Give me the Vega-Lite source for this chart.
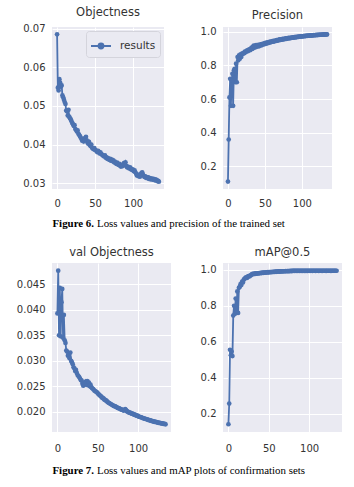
{
  "$schema": "https://vega.github.io/schema/vega-lite/v6.json",
  "background": "#FFFFFF",
  "padding": {"left": 16, "top": 7, "right": 5, "bottom": 5},
  "data": {"values": [
    {"epoch":0,"objectness":0.0685,"precision":0.11,"val_objectness":0.0393,"map50":0.14},
    {"epoch":1,"objectness":0.0547,"precision":0.36,"val_objectness":0.0477,"map50":0.255},
    {"epoch":2,"objectness":0.0540,"precision":0.61,"val_objectness":0.0350,"map50":0.555},
    {"epoch":3,"objectness":0.0569,"precision":0.72,"val_objectness":0.0443,"map50":0.525},
    {"epoch":4,"objectness":0.0560,"precision":0.56,"val_objectness":0.0348,"map50":0.545},
    {"epoch":5,"objectness":0.0550,"precision":0.71,"val_objectness":0.0415,"map50":0.52},
    {"epoch":6,"objectness":0.0553,"precision":0.75,"val_objectness":0.0441,"map50":0.745},
    {"epoch":7,"objectness":0.0527,"precision":0.56,"val_objectness":0.0345,"map50":0.80},
    {"epoch":8,"objectness":0.0522,"precision":0.77,"val_objectness":0.0390,"map50":0.755},
    {"epoch":9,"objectness":0.0516,"precision":0.78,"val_objectness":0.0340,"map50":0.84},
    {"epoch":10,"objectness":0.0510,"precision":0.70,"val_objectness":0.0335,"map50":0.76},
    {"epoch":11,"objectness":0.0505,"precision":0.81,"val_objectness":0.0320,"map50":0.88},
    {"epoch":12,"objectness":0.0488,"precision":0.70,"val_objectness":0.0318,"map50":0.76},
    {"epoch":13,"objectness":0.0486,"precision":0.85,"val_objectness":0.0310,"map50":0.90},
    {"epoch":14,"objectness":0.0475,"precision":0.83,"val_objectness":0.0312,"map50":0.905},
    {"epoch":15,"objectness":0.0490,"precision":0.86,"val_objectness":0.0305,"map50":0.92},
    {"epoch":16,"objectness":0.0472,"precision":0.84,"val_objectness":0.0316,"map50":0.915},
    {"epoch":17,"objectness":0.0468,"precision":0.865,"val_objectness":0.0300,"map50":0.935},
    {"epoch":18,"objectness":0.0465,"precision":0.85,"val_objectness":0.0297,"map50":0.93},
    {"epoch":19,"objectness":0.0460,"precision":0.87,"val_objectness":0.0293,"map50":0.945},
    {"epoch":20,"objectness":0.0456,"precision":0.868,"val_objectness":0.0287,"map50":0.95},
    {"epoch":21,"objectness":0.0452,"precision":0.875,"val_objectness":0.0285,"map50":0.955},
    {"epoch":22,"objectness":0.0448,"precision":0.872,"val_objectness":0.0280,"map50":0.958},
    {"epoch":23,"objectness":0.0450,"precision":0.882,"val_objectness":0.0282,"map50":0.955},
    {"epoch":24,"objectness":0.0440,"precision":0.878,"val_objectness":0.0276,"map50":0.962},
    {"epoch":25,"objectness":0.0438,"precision":0.885,"val_objectness":0.0272,"map50":0.965},
    {"epoch":26,"objectness":0.0434,"precision":0.889,"val_objectness":0.0270,"map50":0.963},
    {"epoch":27,"objectness":0.0437,"precision":0.884,"val_objectness":0.0268,"map50":0.968},
    {"epoch":28,"objectness":0.0428,"precision":0.893,"val_objectness":0.0265,"map50":0.970},
    {"epoch":29,"objectness":0.0425,"precision":0.896,"val_objectness":0.0262,"map50":0.975},
    {"epoch":30,"objectness":0.0422,"precision":0.890,"val_objectness":0.0261,"map50":0.978},
    {"epoch":31,"objectness":0.0418,"precision":0.900,"val_objectness":0.0255,"map50":0.976},
    {"epoch":32,"objectness":0.0415,"precision":0.905,"val_objectness":0.0251,"map50":0.979},
    {"epoch":33,"objectness":0.0410,"precision":0.898,"val_objectness":0.0256,"map50":0.977},
    {"epoch":34,"objectness":0.0413,"precision":0.912,"val_objectness":0.0253,"map50":0.980},
    {"epoch":35,"objectness":0.0408,"precision":0.918,"val_objectness":0.0259,"map50":0.978},
    {"epoch":36,"objectness":0.0416,"precision":0.905,"val_objectness":0.0254,"map50":0.981},
    {"epoch":37,"objectness":0.0412,"precision":0.915,"val_objectness":0.0260,"map50":0.980},
    {"epoch":38,"objectness":0.0420,"precision":0.921,"val_objectness":0.0252,"map50":0.982},
    {"epoch":39,"objectness":0.0411,"precision":0.910,"val_objectness":0.0257,"map50":0.981},
    {"epoch":40,"objectness":0.0405,"precision":0.917,"val_objectness":0.0250,"map50":0.983},
    {"epoch":41,"objectness":0.0402,"precision":0.922,"val_objectness":0.0253,"map50":0.982},
    {"epoch":42,"objectness":0.0407,"precision":0.913,"val_objectness":0.0248,"map50":0.984},
    {"epoch":43,"objectness":0.0399,"precision":0.919,"val_objectness":0.0246,"map50":0.983},
    {"epoch":44,"objectness":0.0396,"precision":0.925,"val_objectness":0.0245,"map50":0.985},
    {"epoch":45,"objectness":0.0400,"precision":0.918,"val_objectness":0.0243,"map50":0.984},
    {"epoch":46,"objectness":0.0392,"precision":0.927,"val_objectness":0.0241,"map50":0.985},
    {"epoch":47,"objectness":0.0390,"precision":0.923,"val_objectness":0.0240,"map50":0.986},
    {"epoch":48,"objectness":0.0388,"precision":0.930,"val_objectness":0.0239,"map50":0.985},
    {"epoch":49,"objectness":0.0391,"precision":0.926,"val_objectness":0.0238,"map50":0.987},
    {"epoch":50,"objectness":0.0386,"precision":0.932,"val_objectness":0.0236,"map50":0.986},
    {"epoch":51,"objectness":0.0385,"precision":0.928,"val_objectness":0.0234,"map50":0.987},
    {"epoch":52,"objectness":0.0383,"precision":0.935,"val_objectness":0.0233,"map50":0.988},
    {"epoch":53,"objectness":0.0380,"precision":0.931,"val_objectness":0.0231,"map50":0.987},
    {"epoch":54,"objectness":0.0384,"precision":0.937,"val_objectness":0.0230,"map50":0.988},
    {"epoch":55,"objectness":0.0381,"precision":0.933,"val_objectness":0.0228,"map50":0.989},
    {"epoch":56,"objectness":0.0377,"precision":0.940,"val_objectness":0.0227,"map50":0.988},
    {"epoch":57,"objectness":0.0380,"precision":0.936,"val_objectness":0.0226,"map50":0.989},
    {"epoch":58,"objectness":0.0376,"precision":0.942,"val_objectness":0.0224,"map50":0.990},
    {"epoch":59,"objectness":0.0374,"precision":0.939,"val_objectness":0.0223,"map50":0.989},
    {"epoch":60,"objectness":0.0372,"precision":0.944,"val_objectness":0.0222,"map50":0.990},
    {"epoch":61,"objectness":0.0371,"precision":0.941,"val_objectness":0.0221,"map50":0.990},
    {"epoch":62,"objectness":0.0369,"precision":0.946,"val_objectness":0.0219,"map50":0.991},
    {"epoch":63,"objectness":0.0372,"precision":0.943,"val_objectness":0.0218,"map50":0.990},
    {"epoch":64,"objectness":0.0366,"precision":0.948,"val_objectness":0.0217,"map50":0.991},
    {"epoch":65,"objectness":0.0367,"precision":0.945,"val_objectness":0.0216,"map50":0.991},
    {"epoch":66,"objectness":0.0363,"precision":0.950,"val_objectness":0.0215,"map50":0.992},
    {"epoch":67,"objectness":0.0365,"precision":0.947,"val_objectness":0.0214,"map50":0.991},
    {"epoch":68,"objectness":0.0362,"precision":0.952,"val_objectness":0.0213,"map50":0.992},
    {"epoch":69,"objectness":0.0360,"precision":0.950,"val_objectness":0.0212,"map50":0.992},
    {"epoch":70,"objectness":0.0363,"precision":0.954,"val_objectness":0.0211,"map50":0.992},
    {"epoch":71,"objectness":0.0358,"precision":0.951,"val_objectness":0.0211,"map50":0.993},
    {"epoch":72,"objectness":0.0361,"precision":0.955,"val_objectness":0.0210,"map50":0.992},
    {"epoch":73,"objectness":0.0357,"precision":0.953,"val_objectness":0.0209,"map50":0.993},
    {"epoch":74,"objectness":0.0359,"precision":0.957,"val_objectness":0.0208,"map50":0.993},
    {"epoch":75,"objectness":0.0354,"precision":0.955,"val_objectness":0.0207,"map50":0.993},
    {"epoch":76,"objectness":0.0356,"precision":0.958,"val_objectness":0.0207,"map50":0.993},
    {"epoch":77,"objectness":0.0352,"precision":0.956,"val_objectness":0.0206,"map50":0.994},
    {"epoch":78,"objectness":0.0350,"precision":0.960,"val_objectness":0.0205,"map50":0.993},
    {"epoch":79,"objectness":0.0353,"precision":0.958,"val_objectness":0.0204,"map50":0.994},
    {"epoch":80,"objectness":0.0349,"precision":0.961,"val_objectness":0.0204,"map50":0.994},
    {"epoch":81,"objectness":0.0347,"precision":0.960,"val_objectness":0.0203,"map50":0.995},
    {"epoch":82,"objectness":0.0350,"precision":0.963,"val_objectness":0.0202,"map50":0.994},
    {"epoch":83,"objectness":0.0345,"precision":0.961,"val_objectness":0.0203,"map50":0.995},
    {"epoch":84,"objectness":0.0343,"precision":0.964,"val_objectness":0.0205,"map50":0.994},
    {"epoch":85,"objectness":0.0346,"precision":0.962,"val_objectness":0.0203,"map50":0.995},
    {"epoch":86,"objectness":0.0344,"precision":0.965,"val_objectness":0.0201,"map50":0.994},
    {"epoch":87,"objectness":0.0349,"precision":0.964,"val_objectness":0.0200,"map50":0.995},
    {"epoch":88,"objectness":0.0352,"precision":0.966,"val_objectness":0.0199,"map50":0.994},
    {"epoch":89,"objectness":0.0348,"precision":0.965,"val_objectness":0.0198,"map50":0.995},
    {"epoch":90,"objectness":0.0354,"precision":0.968,"val_objectness":0.0198,"map50":0.994},
    {"epoch":91,"objectness":0.0345,"precision":0.966,"val_objectness":0.0197,"map50":0.995},
    {"epoch":92,"objectness":0.0341,"precision":0.969,"val_objectness":0.0196,"map50":0.994},
    {"epoch":93,"objectness":0.0343,"precision":0.967,"val_objectness":0.0196,"map50":0.995},
    {"epoch":94,"objectness":0.0340,"precision":0.970,"val_objectness":0.0195,"map50":0.994},
    {"epoch":95,"objectness":0.0338,"precision":0.969,"val_objectness":0.0194,"map50":0.995},
    {"epoch":96,"objectness":0.0341,"precision":0.971,"val_objectness":0.0194,"map50":0.994},
    {"epoch":97,"objectness":0.0336,"precision":0.970,"val_objectness":0.0193,"map50":0.995},
    {"epoch":98,"objectness":0.0337,"precision":0.972,"val_objectness":0.0192,"map50":0.994},
    {"epoch":99,"objectness":0.0334,"precision":0.971,"val_objectness":0.0192,"map50":0.995},
    {"epoch":100,"objectness":0.0335,"precision":0.973,"val_objectness":0.0191,"map50":0.995},
    {"epoch":101,"objectness":0.0331,"precision":0.972,"val_objectness":0.0190,"map50":0.994},
    {"epoch":102,"objectness":0.0333,"precision":0.974,"val_objectness":0.0190,"map50":0.995},
    {"epoch":103,"objectness":0.0328,"precision":0.973,"val_objectness":0.0189,"map50":0.995},
    {"epoch":104,"objectness":0.0325,"precision":0.975,"val_objectness":0.0189,"map50":0.994},
    {"epoch":105,"objectness":0.0320,"precision":0.974,"val_objectness":0.0188,"map50":0.995},
    {"epoch":106,"objectness":0.0322,"precision":0.976,"val_objectness":0.0187,"map50":0.995},
    {"epoch":107,"objectness":0.0318,"precision":0.975,"val_objectness":0.0187,"map50":0.995},
    {"epoch":108,"objectness":0.0321,"precision":0.977,"val_objectness":0.0186,"map50":0.994},
    {"epoch":109,"objectness":0.0317,"precision":0.976,"val_objectness":0.0186,"map50":0.995},
    {"epoch":110,"objectness":0.0323,"precision":0.977,"val_objectness":0.0185,"map50":0.995},
    {"epoch":111,"objectness":0.0326,"precision":0.977,"val_objectness":0.0185,"map50":0.995},
    {"epoch":112,"objectness":0.0328,"precision":0.978,"val_objectness":0.0184,"map50":0.994},
    {"epoch":113,"objectness":0.0322,"precision":0.977,"val_objectness":0.0184,"map50":0.995},
    {"epoch":114,"objectness":0.0319,"precision":0.979,"val_objectness":0.0183,"map50":0.995},
    {"epoch":115,"objectness":0.0316,"precision":0.978,"val_objectness":0.0183,"map50":0.995},
    {"epoch":116,"objectness":0.0318,"precision":0.980,"val_objectness":0.0182,"map50":0.994},
    {"epoch":117,"objectness":0.0314,"precision":0.979,"val_objectness":0.0182,"map50":0.995},
    {"epoch":118,"objectness":0.0316,"precision":0.980,"val_objectness":0.0181,"map50":0.995},
    {"epoch":119,"objectness":0.0313,"precision":0.980,"val_objectness":0.0181,"map50":0.995},
    {"epoch":120,"objectness":0.0315,"precision":0.981,"val_objectness":0.0180,"map50":0.995},
    {"epoch":121,"objectness":0.0311,"precision":0.980,"val_objectness":0.0180,"map50":0.994},
    {"epoch":122,"objectness":0.0313,"precision":0.982,"val_objectness":0.0180,"map50":0.995},
    {"epoch":123,"objectness":0.0310,"precision":0.981,"val_objectness":0.0179,"map50":0.995},
    {"epoch":124,"objectness":0.0312,"precision":0.982,"val_objectness":0.0179,"map50":0.995},
    {"epoch":125,"objectness":0.0311,"precision":0.982,"val_objectness":0.0178,"map50":0.995},
    {"epoch":126,"objectness":0.0309,"precision":0.983,"val_objectness":0.0178,"map50":0.995},
    {"epoch":127,"objectness":0.0311,"precision":0.982,"val_objectness":0.0178,"map50":0.994},
    {"epoch":128,"objectness":0.0308,"precision":0.983,"val_objectness":0.0177,"map50":0.995},
    {"epoch":129,"objectness":0.0310,"precision":0.983,"val_objectness":0.0177,"map50":0.995},
    {"epoch":130,"objectness":0.0307,"precision":0.984,"val_objectness":0.0177,"map50":0.995},
    {"epoch":131,"objectness":0.0309,"precision":0.983,"val_objectness":0.0176,"map50":0.995},
    {"epoch":132,"objectness":0.0305,"precision":0.984,"val_objectness":0.0176,"map50":0.995},
    {"epoch":133,"objectness":0.0306,"precision":0.984,"val_objectness":0.0176,"map50":0.995},
    {"epoch":134,"objectness":0.0304,"precision":0.984,"val_objectness":0.0175,"map50":0.995}
  ]},
  "columns": 2,
  "align": "none",
  "bounds": "flush",
  "spacing": {"row": 30, "column": 52},
  "resolve": {"scale": {"color": "independent"}, "legend": {"color": "independent"}},
  "concat": [
    {
      "title": "Objectness",
      "width": 112, "height": 162,
      "view": {"fill": "#EAEAF2", "stroke": null},
      "mark": {"type": "line", "strokeWidth": 1.8, "point": {"filled": true, "size": 22}},
      "encoding": {
        "x": {"field": "epoch", "type": "quantitative", "scale": {"domain": [-6.7, 140.7], "nice": false, "zero": false}, "axis": {"values": [0, 50, 100]}},
        "y": {"field": "objectness", "type": "quantitative", "scale": {"domain": [0.0285, 0.0704], "nice": false, "zero": false}, "axis": {"values": [0.03, 0.04, 0.05, 0.06, 0.07], "format": ".2f"}},
        "color": {"datum": "results", "scale": {"range": ["#4C72B0"]}, "legend": {
          "title": null, "orient": "top-right", "offset": 4,
          "fillColor": "#EAEAF2", "strokeColor": "#D4D4DC", "padding": 4, "cornerRadius": 3,
          "labelFont": "DejaVu Sans", "labelFontSize": 10.5, "labelColor": "#333333", "labelOffset": 8,
          "symbolType": "M-1,0L1,0M0.25,0A0.25,0.25,0,1,1,-0.25,0A0.25,0.25,0,1,1,0.25,0Z",
          "symbolSize": 400, "symbolStrokeWidth": 1.8, "symbolFillColor": "#4C72B0", "symbolStrokeColor": "#4C72B0"
        }}
      }
    },
    {
      "title": "Precision",
      "width": 109, "height": 162,
      "view": {"fill": "#EAEAF2", "stroke": null},
      "mark": {"type": "line", "color": "#4C72B0", "strokeWidth": 1.8, "point": {"filled": true, "size": 22, "color": "#4C72B0"}},
      "encoding": {
        "x": {"field": "epoch", "type": "quantitative", "scale": {"domain": [-6.7, 140.7], "nice": false, "zero": false}, "axis": {"values": [0, 50, 100]}},
        "y": {"field": "precision", "type": "quantitative", "scale": {"domain": [0.066, 1.028], "nice": false, "zero": false}, "axis": {"values": [0.2, 0.4, 0.6, 0.8, 1.0], "format": ".1f"}}
      }
    },
    {
      "width": 87, "height": 14,
      "view": {"fill": null, "stroke": null},
      "data": {"values": [{"label": "Figure 6.", "caption": "Loss values and precision of the trained set"}]},
      "layer": [
        {"mark": {"type": "text", "align": "right", "dx": -1.5, "dy": -2, "font": "Liberation Serif", "fontSize": 10.9, "fontWeight": "bold", "color": "#000000"}, "encoding": {"text": {"field": "label", "type": "nominal"}}},
        {"mark": {"type": "text", "align": "left", "dx": 1.5, "dy": -2, "font": "Liberation Serif", "fontSize": 10.9, "color": "#000000"}, "encoding": {"text": {"field": "caption", "type": "nominal"}}}
      ]
    },
    {
      "width": 1, "height": 14,
      "view": {"fill": null, "stroke": null},
      "data": {"values": []},
      "mark": "text",
      "encoding": {}
    },
    {
      "title": "val Objectness",
      "width": 119, "height": 169,
      "view": {"fill": "#EAEAF2", "stroke": null},
      "mark": {"type": "line", "color": "#4C72B0", "strokeWidth": 1.8, "point": {"filled": true, "size": 22, "color": "#4C72B0"}},
      "encoding": {
        "x": {"field": "epoch", "type": "quantitative", "scale": {"domain": [-6.7, 140.7], "nice": false, "zero": false}, "axis": {"values": [0, 50, 100], "labelPadding": 11}},
        "y": {"field": "val_objectness", "type": "quantitative", "scale": {"domain": [0.016, 0.0492], "nice": false, "zero": false}, "axis": {"values": [0.02, 0.025, 0.03, 0.035, 0.04, 0.045], "format": ".3f"}}
      }
    },
    {
      "title": "mAP@0.5",
      "width": 119, "height": 169,
      "view": {"fill": "#EAEAF2", "stroke": null},
      "mark": {"type": "line", "color": "#4C72B0", "strokeWidth": 1.8, "point": {"filled": true, "size": 22, "color": "#4C72B0"}},
      "encoding": {
        "x": {"field": "epoch", "type": "quantitative", "scale": {"domain": [-6.7, 140.7], "nice": false, "zero": false}, "axis": {"values": [0, 50, 100], "labelPadding": 11}},
        "y": {"field": "map50", "type": "quantitative", "scale": {"domain": [0.097, 1.038], "nice": false, "zero": false}, "axis": {"values": [0.2, 0.4, 0.6, 0.8, 1.0], "format": ".1f"}}
      }
    },
    {
      "width": 87, "height": 14,
      "view": {"fill": null, "stroke": null},
      "data": {"values": [{"label": "Figure 7.", "caption": "Loss values and mAP plots of confirmation sets"}]},
      "layer": [
        {"mark": {"type": "text", "align": "right", "dx": -1.5, "dy": 2, "font": "Liberation Serif", "fontSize": 10.9, "fontWeight": "bold", "color": "#000000"}, "encoding": {"text": {"field": "label", "type": "nominal"}}},
        {"mark": {"type": "text", "align": "left", "dx": 1.5, "dy": 2, "font": "Liberation Serif", "fontSize": 10.9, "color": "#000000"}, "encoding": {"text": {"field": "caption", "type": "nominal"}}}
      ]
    },
    {
      "width": 1, "height": 14,
      "view": {"fill": null, "stroke": null},
      "data": {"values": []},
      "mark": "text",
      "encoding": {}
    }
  ],
  "config": {
    "view": {"stroke": null},
    "axis": {"domain": false, "ticks": false, "grid": true, "gridColor": "#FFFFFF", "gridWidth": 1, "gridOpacity": 1, "labelFont": "DejaVu Sans", "labelFontSize": 10, "labelColor": "#333333", "labelPadding": 7, "title": null},
    "axisX": {"labelPadding": 9},
    "title": {"font": "DejaVu Sans", "fontSize": 11.5, "fontWeight": "normal", "color": "#333333", "offset": 5}
  }
}
